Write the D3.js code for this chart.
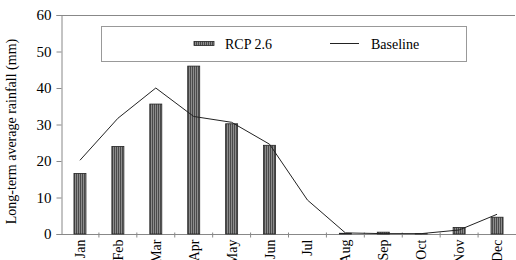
<!DOCTYPE html>
<html>
<head>
<meta charset="utf-8">
<script src="https://cdn.jsdelivr.net/npm/d3@7"></script>
<style>
  body { margin: 0; background: #fff; }
  text { font-family: "Liberation Serif", "Times New Roman", serif; fill: #000; }
</style>
</head>
<body>
<svg id="chart" width="516" height="260"></svg>
<script>
// months along the x axis
var months = ["Jan", "Feb", "Mar", "Apr", "May", "Jun", "Jul", "Aug", "Sep", "Oct", "Nov", "Dec"];
// RCP 2.6 bars (mm)
var rcp26 = [16.6, 24.0, 35.6, 46.0, 30.2, 24.3, 0, 0.2, 0.5, 0.1, 1.8, 4.6];
// baseline line (mm)
var baseline = [20.2, 31.7, 40.0, 32.2, 30.6, 24.6, 9.3, 0.3, 0.1, 0.1, 1.1, 5.4];
var yTicks = [0, 10, 20, 30, 40, 50, 60];

var svg = d3.select("#chart");
// plot edges (note: "top" is taken by window.top, so use other names)
var plotLeft = 61, plotRight = 516, plotTop = 15, plotBottom = 234;

var x = d3.scaleBand().domain(months).range([plotLeft, plotRight]);
var y = d3.scaleLinear().domain([0, 60]).range([plotBottom, plotTop]);

// striped fill for the bars
var defs = svg.append("defs");
var pat = defs.append("pattern")
    .attr("id", "stripes")
    .attr("patternUnits", "userSpaceOnUse")
    .attr("width", 2).attr("height", 4);
pat.append("rect").attr("width", 2).attr("height", 4).attr("fill", "#8c8c8c");
pat.append("rect").attr("width", 1).attr("height", 4).attr("fill", "#4a4a4a");

// top frame line
svg.append("line")
    .attr("x1", plotLeft).attr("x2", plotRight - 1)
    .attr("y1", y(60) + 0.5).attr("y2", y(60) + 0.5)
    .attr("stroke", "#888");

// y axis
var yAxis = svg.append("g")
    .attr("transform", "translate(" + (plotLeft + 0.5) + ",0)")
    .call(d3.axisLeft(y).tickValues(yTicks).tickSize(5).tickPadding(5));
yAxis.select(".domain").attr("stroke", "#888");
yAxis.selectAll(".tick line").attr("stroke", "#888");
yAxis.selectAll("text").style("font-size", "15px").style("font-family", "Liberation Serif");

// x axis with ticks between months
var xAxis = svg.append("g")
    .attr("transform", "translate(0," + (plotBottom + 0.5) + ")");
xAxis.append("line")
    .attr("x1", plotLeft).attr("x2", plotRight)
    .attr("stroke", "#888");
xAxis.selectAll(".xtick")
    .data(months.slice(1))
    .enter().append("line")
    .attr("class", "xtick")
    .attr("x1", function(d) { return x(d); })
    .attr("x2", function(d) { return x(d); })
    .attr("y1", -2).attr("y2", 3)
    .attr("stroke", "#888");
xAxis.selectAll(".xlabel")
    .data(months)
    .enter().append("text")
    .attr("class", "xlabel")
    .attr("transform", function(d) {
        return "translate(" + (x(d) + x.bandwidth() / 2 + 5) + ",5) rotate(-90)";
    })
    .attr("text-anchor", "end")
    .style("font-size", "14px")
    .text(function(d) { return d; });

// bars
var barW = 12;
svg.selectAll(".bar")
    .data(rcp26)
    .enter().append("rect")
    .attr("class", "bar")
    .attr("x", function(d, i) { return x(months[i]) + x.bandwidth() / 2 - barW / 2; })
    .attr("y", function(d) { return y(d); })
    .attr("width", barW)
    .attr("height", function(d) { return plotBottom - y(d); })
    .attr("fill", "url(#stripes)")
    .attr("stroke", "#222")
    .attr("stroke-width", 0.8);

// baseline line
var line = d3.line()
    .x(function(d, i) { return x(months[i]) + x.bandwidth() / 2; })
    .y(function(d) { return y(d); });
svg.append("path")
    .datum(baseline)
    .attr("d", line)
    .attr("fill", "none")
    .attr("stroke", "#222")
    .attr("stroke-width", 1);

// legend
var lg = svg.append("g");
lg.append("rect")
    .attr("x", 101.5).attr("y", 26.5)
    .attr("width", 365).attr("height", 35)
    .attr("fill", "#fff")
    .attr("stroke", "#999");
lg.append("rect")
    .attr("x", 194).attr("y", 41.5)
    .attr("width", 20).attr("height", 4)
    .attr("fill", "url(#stripes)")
    .attr("stroke", "#222")
    .attr("stroke-width", 0.8);
lg.append("text")
    .attr("x", 225).attr("y", 49)
    .style("font-size", "14px")
    .text("RCP 2.6");
lg.append("line")
    .attr("x1", 330).attr("x2", 359)
    .attr("y1", 43.5).attr("y2", 43.5)
    .attr("stroke", "#222");
lg.append("text")
    .attr("x", 371).attr("y", 49)
    .style("font-size", "14px")
    .text("Baseline");

// y axis title
svg.append("text")
    .attr("transform", "translate(16," + ((plotTop + plotBottom) / 2 + 7) + ") rotate(-90)")
    .attr("text-anchor", "middle")
    .style("font-size", "14px")
    .text("Long-term average rainfall (mm)");
</script>
</body>
</html>
